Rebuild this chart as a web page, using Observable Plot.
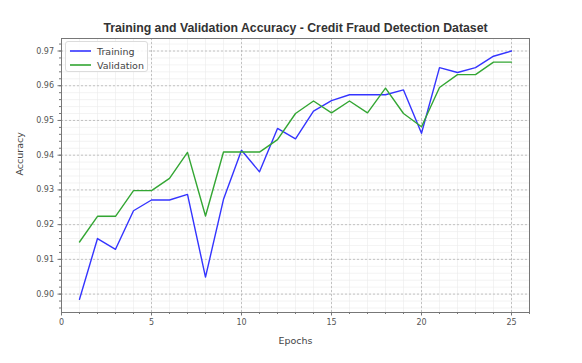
<!DOCTYPE html>
<html><head><meta charset="utf-8">
<script src="https://cdn.jsdelivr.net/npm/d3@7"></script>
<script src="https://cdn.jsdelivr.net/npm/@observablehq/plot@0.6"></script>
<style>
body{margin:0;background:#fff;}
#wrap{position:relative;width:582px;height:363px;}
.legend{position:absolute;left:65px;top:41px;width:83px;height:31px;box-sizing:border-box;border:1px solid #dcdcdc;border-radius:3px;background:rgba(255,255,255,0.85);font:9.5px "DejaVu Sans",sans-serif;color:#444;}
.legend .row{position:absolute;left:4px;height:12px;display:flex;align-items:center;}
.legend svg{margin-right:6px;}
</style></head><body><div id="wrap"></div>
<script>
const titleText = "Training and Validation Accuracy - Credit Fraud Detection Dataset";
const xLabel = "Epochs";
const yLabel = "Accuracy";
const seriesNames = ["Training", "Validation"];
const seriesColors = ["#3434ff", "#33a633"];
const epochs = [1,2,3,4,5,6,7,8,9,10,11,12,13,14,15,16,17,18,19,20,21,22,23,24,25];
const trainAcc = [0.8985,0.9160,0.9129,0.9240,0.9271,0.9271,0.9287,0.9049,0.9273,0.9414,0.9352,0.9477,0.9447,0.9527,0.9557,0.9574,0.9574,0.9574,0.9588,0.9463,0.9652,0.9638,0.9652,0.9685,0.9700];
const valAcc = [0.9150,0.9224,0.9224,0.9298,0.9298,0.9333,0.9408,0.9225,0.9409,0.9409,0.9409,0.9445,0.9520,0.9556,0.9522,0.9556,0.9522,0.9593,0.9520,0.9482,0.9595,0.9632,0.9632,0.9668,0.9668];
const xTicks = [0,5,10,15,20,25];
const yTicks = [0.90,0.91,0.92,0.93,0.94,0.95,0.96,0.97];

const xMinor = d3.range(0, 27, 1);
const yMinor = d3.range(448, 487, 1).map(v => v * 0.002);

const trainData = epochs.map((e, i) => ({epoch: e, acc: trainAcc[i]}));
const valData = epochs.map((e, i) => ({epoch: e, acc: valAcc[i]}));

const chart = Plot.plot({
  width: 582,
  height: 363,
  marginTop: 38,
  marginBottom: 51,
  marginLeft: 61,
  marginRight: 53,
  style: {color: "#555", background: "#fff", fontFamily: "DejaVu Sans"},
  x: {domain: [0, 26]},
  y: {domain: [0.8947, 0.9736]},
  marks: [
    Plot.gridX(xMinor, {stroke: "#ebebeb", strokeOpacity: 1, strokeWidth: 0.6}),
    Plot.gridY(yMinor, {stroke: "#ebebeb", strokeOpacity: 1, strokeWidth: 0.6}),
    Plot.gridX(xTicks, {stroke: "#b5b5b5", strokeOpacity: 1, strokeWidth: 0.8, strokeDasharray: "2,2"}),
    Plot.gridY(yTicks, {stroke: "#b5b5b5", strokeOpacity: 1, strokeWidth: 0.8, strokeDasharray: "2,2"}),
    Plot.frame({stroke: "#777", strokeWidth: 1}),
    Plot.axisX(xMinor, {tickSize: 2, tickFormat: () => "", label: null, stroke: "#777"}),
    Plot.axisY(yMinor, {tickSize: 2, tickFormat: () => "", label: null, stroke: "#777"}),
    Plot.axisX(xTicks, {tickSize: 3.5, tickPadding: 3, fontSize: 8, label: null, stroke: "#777", tickFormat: d => String(d)}),
    Plot.axisY(yTicks, {tickSize: 3.5, tickPadding: 4, fontSize: 8, label: null, stroke: "#777", tickFormat: d => d.toFixed(2)}),
    Plot.line(trainData, {x: "epoch", y: "acc", stroke: seriesColors[0], strokeWidth: 1.4}),
    Plot.line(valData, {x: "epoch", y: "acc", stroke: seriesColors[1], strokeWidth: 1.4}),
    Plot.text([titleText], {frameAnchor: "top", dy: -15, fontSize: 12.3, fontWeight: "bold", fontFamily: "Liberation Sans", fill: "#333"}),
    Plot.text([xLabel], {frameAnchor: "bottom", dy: 31, fontSize: 9.5, fill: "#444"}),
    Plot.text([yLabel], {frameAnchor: "left", dx: -41.5, rotate: -90, fontSize: 9.5, fill: "#444"})
  ]
});

const wrap = document.getElementById("wrap");
wrap.appendChild(chart);
const legend = document.createElement("div");
legend.className = "legend";
seriesNames.forEach((name, i) => {
  const row = document.createElement("div");
  row.className = "row";
  row.style.top = (i === 0 ? 3 : 17) + "px";
  row.innerHTML = `<svg width="21" height="4"><line x1="0" x2="21" y1="2" y2="2" stroke="${seriesColors[i]}" stroke-width="1.6"/></svg><span>${name}</span>`;
  legend.appendChild(row);
});
wrap.appendChild(legend);
</script>
</body></html>
